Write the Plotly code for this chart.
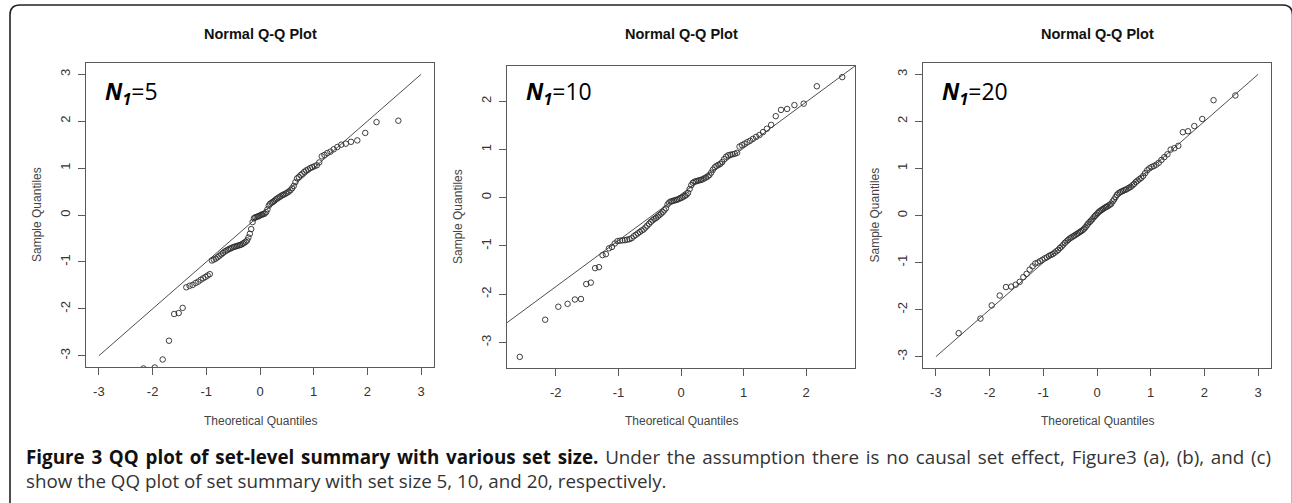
import plotly.graph_objects as go

# ---------------- data ----------------
# theoretical normal quantiles (n = 100 points per panel)
theoretical_quantiles = [
    -2.576, -2.170, -1.960, -1.812, -1.695, -1.598, -1.514, -1.440, -1.372, -1.311,
    -1.254, -1.200, -1.150, -1.103, -1.058, -1.015, -0.974, -0.935, -0.896, -0.860,
    -0.824, -0.789, -0.755, -0.722, -0.690, -0.659, -0.628, -0.598, -0.568, -0.539,
    -0.510, -0.482, -0.454, -0.426, -0.399, -0.372, -0.345, -0.319, -0.292, -0.266,
    -0.240, -0.215, -0.189, -0.164, -0.138, -0.113, -0.088, -0.063, -0.038, -0.013,
    0.013, 0.038, 0.063, 0.088, 0.113, 0.138, 0.164, 0.189, 0.215, 0.240,
    0.266, 0.292, 0.319, 0.345, 0.372, 0.399, 0.426, 0.454, 0.482, 0.510,
    0.539, 0.568, 0.598, 0.628, 0.659, 0.690, 0.722, 0.755, 0.789, 0.824,
    0.860, 0.896, 0.935, 0.974, 1.015, 1.058, 1.103, 1.150, 1.200, 1.254,
    1.311, 1.372, 1.440, 1.514, 1.598, 1.695, 1.812, 1.960, 2.170, 2.576,
]

# sample quantiles, set size N1 = 5
sample_n5 = [
    -3.60, -3.27, -3.25, -3.08, -2.68, -2.11, -2.09, -1.98, -1.54, -1.51,
    -1.49, -1.45, -1.42, -1.38, -1.35, -1.32, -1.29, -1.26, -0.97, -0.95,
    -0.93, -0.90, -0.87, -0.84, -0.81, -0.78, -0.76, -0.74, -0.72, -0.71,
    -0.69, -0.68, -0.67, -0.66, -0.65, -0.64, -0.63, -0.61, -0.59, -0.57,
    -0.54, -0.48, -0.40, -0.30, -0.15, -0.07, -0.05, -0.04, -0.03, -0.02,
    0.00, 0.01, 0.02, 0.03, 0.06, 0.12, 0.20, 0.24, 0.26, 0.28,
    0.30, 0.33, 0.35, 0.37, 0.39, 0.41, 0.43, 0.44, 0.46, 0.48,
    0.50, 0.53, 0.57, 0.62, 0.70, 0.78, 0.81, 0.85, 0.88, 0.92,
    0.95, 0.97, 1.00, 1.02, 1.04, 1.06, 1.12, 1.25, 1.28, 1.32,
    1.35, 1.40, 1.45, 1.50, 1.52, 1.56, 1.59, 1.75, 1.98, 2.01,
]

# sample quantiles, set size N1 = 10
sample_n10 = [
    -3.30, -2.53, -2.26, -2.20, -2.11, -2.10, -1.79, -1.76, -1.46, -1.44,
    -1.19, -1.17, -1.05, -1.02, -0.95, -0.90, -0.89, -0.885, -0.88, -0.87,
    -0.86, -0.84, -0.80, -0.77, -0.74, -0.71, -0.68, -0.66, -0.62, -0.58,
    -0.54, -0.50, -0.47, -0.44, -0.42, -0.39, -0.36, -0.33, -0.30, -0.26,
    -0.22, -0.14, -0.10, -0.08, -0.07, -0.06, -0.05, -0.04, -0.03, -0.01,
    0.00, 0.02, 0.04, 0.06, 0.10, 0.18, 0.26, 0.31, 0.33, 0.34,
    0.35, 0.36, 0.37, 0.38, 0.40, 0.42, 0.44, 0.47, 0.52, 0.58,
    0.63, 0.66, 0.68, 0.70, 0.74, 0.80, 0.85, 0.88, 0.89, 0.90,
    0.91, 0.93, 1.06, 1.09, 1.12, 1.15, 1.18, 1.22, 1.26, 1.30,
    1.36, 1.43, 1.51, 1.69, 1.82, 1.84, 1.92, 1.95, 2.31, 2.50,
]

# sample quantiles, set size N1 = 20
sample_n20 = [
    -2.50, -2.19, -1.91, -1.70, -1.52, -1.51, -1.47, -1.41, -1.31, -1.24,
    -1.15, -1.08, -1.02, -1.00, -0.97, -0.94, -0.91, -0.89, -0.86, -0.84,
    -0.82, -0.79, -0.76, -0.73, -0.69, -0.66, -0.62, -0.58, -0.55, -0.52,
    -0.49, -0.47, -0.45, -0.43, -0.41, -0.39, -0.37, -0.35, -0.33, -0.31,
    -0.28, -0.25, -0.21, -0.17, -0.14, -0.11, -0.08, -0.04, -0.01, 0.02,
    0.05, 0.08, 0.10, 0.12, 0.14, 0.16, 0.18, 0.19, 0.21, 0.23,
    0.25, 0.30, 0.34, 0.39, 0.44, 0.47, 0.49, 0.51, 0.52, 0.54,
    0.55, 0.57, 0.59, 0.61, 0.64, 0.67, 0.71, 0.74, 0.77, 0.80,
    0.84, 0.90, 0.96, 1.00, 1.03, 1.05, 1.08, 1.12, 1.18, 1.24,
    1.30, 1.40, 1.43, 1.48, 1.77, 1.79, 1.90, 2.05, 2.45, 2.55,
]

# reference (qq) lines: intercept, slope, x extent
ref_lines = [
    dict(intercept=0.0, slope=1.0, x_from=-3.0, x_to=3.0),
    dict(intercept=0.07, slope=0.957, x_from=-2.78, x_to=2.78),
    dict(intercept=0.0, slope=1.0, x_from=-3.0, x_to=3.0),
]

set_sizes = ["5", "10", "20"]
panel_title = "Normal Q-Q Plot"
x_title = "Theoretical Quantiles"
y_title = "Sample Quantiles"

ticks_wide = [-3, -2, -1, 0, 1, 2, 3]
ticks_wide_text = ["-3", "-2", "-1", "0", "1", "2", "3"]
ticks_mid_x = [-2, -1, 0, 1, 2]
ticks_mid_x_text = ["-2", "-1", "0", "1", "2"]
ticks_mid_y = [-3, -2, -1, 0, 1, 2]
ticks_mid_y_text = ["-3", "-2", "-1", "0", "1", "2"]

caption_bold = "Figure 3 QQ plot of set-level summary with various set size."
caption_rest1 = " Under the assumption there is no causal set effect, Figure3 (a), (b), and (c)"
caption_line2 = "show the QQ plot of set summary with set size 5, 10, and 20, respectively."

# ---------------- layout helpers ----------------
W, H = 1292, 503


def px(x):
    return x / W


def py(y):
    return 1 - y / H


# plot boxes in pixels: (left, right, top, bottom)
boxes = [(86, 434, 63, 367), (507, 855, 66, 368), (923, 1271, 63, 368)]
x_ranges = [[-3.24, 3.24], [-2.78, 2.78], [-3.24, 3.24]]
y_ranges = [[-3.24, 3.24], [-3.53, 2.73], [-3.24, 3.24]]
x_ticks = [(ticks_wide, ticks_wide_text), (ticks_mid_x, ticks_mid_x_text), (ticks_wide, ticks_wide_text)]
y_ticks = [(ticks_wide, ticks_wide_text), (ticks_mid_y, ticks_mid_y_text), (ticks_wide, ticks_wide_text)]
samples = [sample_n5, sample_n10, sample_n20]

AX_FONT = "Liberation Sans, Arial, sans-serif"
CAP_FONT = "Open Sans, sans-serif"
LINE_COL = "#5a5a5a"

fig = go.Figure()
layout = dict(
    width=W, height=H, autosize=False,
    margin=dict(l=0, r=0, t=0, b=0),
    paper_bgcolor="white", plot_bgcolor="white",
    showlegend=False, template="none",
)

annotations = []
for i in range(3):
    sfx = "" if i == 0 else str(i + 1)
    xa, ya = "x" + sfx, "y" + sfx
    L, R, T, B = boxes[i]
    fig.add_trace(go.Scatter(
        x=theoretical_quantiles, y=samples[i], xaxis=xa, yaxis=ya,
        mode="markers",
        marker=dict(symbol="circle-open", size=5.5, color="#2a2a2a", line=dict(width=0.9)),
        hoverinfo="skip",
    ))
    rl = ref_lines[i]
    lx = [rl["x_from"], rl["x_to"]]
    ly = [rl["intercept"] + rl["slope"] * v for v in lx]
    fig.add_trace(go.Scatter(
        x=lx, y=ly, xaxis=xa, yaxis=ya, mode="lines",
        line=dict(color="#3a3a3a", width=0.9), hoverinfo="skip",
    ))
    common = dict(
        showline=True, mirror=True, linecolor=LINE_COL, linewidth=1.3,
        ticks="outside", ticklen=7, tickwidth=1, tickcolor=LINE_COL,
        showgrid=False, zeroline=False,
        tickfont=dict(family=AX_FONT, size=13, color="#333"),
    )
    layout["xaxis" + sfx] = dict(
        common, domain=[px(L), px(R)], range=x_ranges[i], anchor=ya,
        tickmode="array", tickvals=x_ticks[i][0], ticktext=x_ticks[i][1],
        ticklabelstandoff=5,
    )
    layout["yaxis" + sfx] = dict(
        common, domain=[py(B), py(T)], range=y_ranges[i], anchor=xa,
        tickmode="array", tickvals=y_ticks[i][0], ticktext=y_ticks[i][1],
        tickangle=-90, ticklabelstandoff=3,
    )
    cx = (L + R) / 2
    annotations.append(dict(
        text="<b>" + panel_title + "</b>", x=px(cx), y=py(34), xref="paper", yref="paper",
        xanchor="center", yanchor="middle", showarrow=False,
        font=dict(family=AX_FONT, size=14.5, color="#111"),
    ))
    annotations.append(dict(
        text=x_title, x=px(cx), y=py(421), xref="paper", yref="paper",
        xanchor="center", yanchor="middle", showarrow=False,
        font=dict(family=AX_FONT, size=12, color="#444"),
    ))
    annotations.append(dict(
        text=y_title, x=px(L - 49), y=py((T + B) / 2), xref="paper", yref="paper",
        xanchor="center", yanchor="middle", showarrow=False, textangle=-90,
        font=dict(family=AX_FONT, size=12, color="#444"),
    ))
    annotations.append(dict(
        text="<b><i>N</i></b><sub><b><i>1</i></b></sub>=" + set_sizes[i],
        x=px(L + 17), y=py(92), xref="paper", yref="paper",
        xanchor="left", yanchor="middle", showarrow=False,
        font=dict(family=CAP_FONT, size=23, color="#000"),
    ))

# caption (first line is justified in the reference: widen word gaps slightly)
HAIR = "\u200a"
line1_rest = caption_rest1.replace(" ", " " + HAIR)
line1_bold = caption_bold.replace(" ", " " + HAIR)
annotations.append(dict(
    text=("<b>" + line1_bold + "</b><span style='color:#333'>" + line1_rest + "</span>"
          + "<br><span style='color:#333'>" + caption_line2 + "</span>"),
    x=px(24), y=py(468.5), xref="paper", yref="paper",
    xanchor="left", yanchor="middle", align="left", showarrow=False,
    font=dict(family=CAP_FONT, size=18.8, color="#111"),
))
layout["annotations"] = annotations

# rounded outer frame
fl, ft, fr, fb, rr = 10, 5, 1292.5, 503.5, 10
path = (
    f"M {px(fl)},{py(fb)} L {px(fl)},{py(ft + rr)} "
    f"Q {px(fl)},{py(ft)} {px(fl + rr)},{py(ft)} "
    f"L {px(fr - rr)},{py(ft)} Q {px(fr)},{py(ft)} {px(fr)},{py(ft + rr)} "
    f"L {px(fr)},{py(fb)}"
)
layout["shapes"] = [dict(type="path", path=path, xref="paper", yref="paper",
                         line=dict(color="#222", width=1.6))]

fig.update_layout(**layout)
fig.write_html(
    "out.html",
    config={"displayModeBar": False},
    post_script="document.body.style.margin='0';document.body.style.padding='0';",
)
